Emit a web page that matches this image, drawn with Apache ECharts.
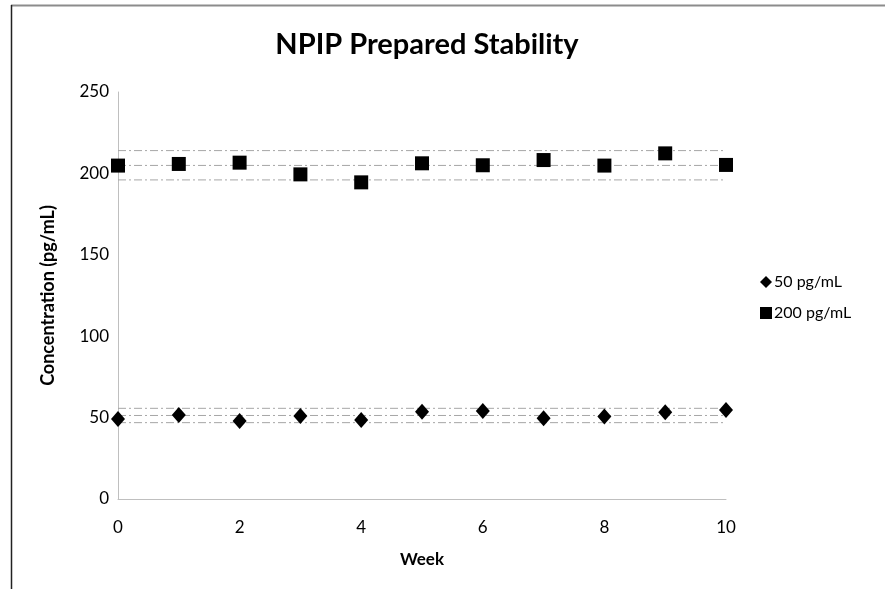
<!DOCTYPE html>
<html>
<head>
<meta charset="utf-8">
<script src="https://cdn.jsdelivr.net/npm/echarts@6/dist/echarts.min.js"></script>
<style>
  html, body { margin: 0; padding: 0; background: #fff; }
  #chart { width: 885px; height: 589px; }
</style>
</head>
<body>
<div id="chart"></div>
<script>
// weeks on the x axis
var weeks = [0, 1, 2, 3, 4, 5, 6, 7, 8, 9, 10];
// measured concentrations (pg/mL)
var low50 = [49.2, 51.6, 47.9, 51.0, 48.5, 53.6, 54.1, 49.6, 50.6, 53.3, 54.7];
var high200 = [204.8, 205.8, 206.6, 199.4, 194.5, 206.2, 205.0, 208.2, 204.8, 212.3, 205.2];
// reference lines (upper limit, mean, lower limit)
var limits50 = [55.7, 51.3, 46.9];
var limits200 = [214.0, 204.9, 196.0];
var seriesNames = ['50 pg/mL', '200 pg/mL'];
var yTicks = [0, 50, 100, 150, 200, 250];
var xTicks = [0, 2, 4, 6, 8, 10];

window.onload = function () {
    var font = 'Lato';
    var chart = echarts.init(document.getElementById('chart'));

    function pairs(vals) {
        return weeks.map(function (w, i) { return [w, vals[i]]; });
    }

    function refLine(v) {
        return {
            type: 'line',
            data: [[weeks[0], v], [weeks[weeks.length - 1], v]],
            symbol: 'none',
            silent: true,
            z: 1,
            lineStyle: { color: '#a6a6a6', width: 1, type: [8, 3, 2, 3] }
        };
    }

    var series = [];
    limits50.concat(limits200).forEach(function (v) { series.push(refLine(v)); });
    series.push({
        name: seriesNames[0],
        type: 'scatter',
        data: pairs(low50),
        symbol: 'diamond',
        symbolSize: [14, 16],
        itemStyle: { color: '#000', opacity: 1 },
        z: 5
    });
    series.push({
        name: seriesNames[1],
        type: 'scatter',
        data: pairs(high200),
        symbol: 'rect',
        symbolSize: 14,
        itemStyle: { color: '#000', opacity: 1 },
        z: 5
    });

    var option = {
        animation: false,
        title: {
            text: 'NPIP Prepared Stability',
            left: 422,
            top: 25,
            textAlign: 'center',
            textStyle: { fontFamily: font, fontSize: 29, fontWeight: 'bold', color: '#000' }
        },
        legend: {
            orient: 'vertical',
            left: 755,
            top: 269,
            itemGap: 15,
            itemWidth: 12,
            itemHeight: 12,
            data: [
                { name: seriesNames[0], icon: 'diamond' },
                { name: seriesNames[1], icon: 'rect' }
            ],
            itemStyle: { opacity: 1 },
            textStyle: { fontFamily: font, fontSize: 16, color: '#000', padding: [0, 0, 0, -3] }
        },
        grid: { left: 118, right: 159, top: 92, bottom: 90 },
        xAxis: {
            type: 'value',
            min: xTicks[0],
            max: xTicks[xTicks.length - 1],
            interval: 2,
            name: 'Week',
            nameLocation: 'middle',
            nameGap: 52,
            nameTextStyle: { fontFamily: font, fontSize: 17, fontWeight: 'bold', color: '#000' },
            axisLine: { lineStyle: { color: '#bfbfbf', width: 1 } },
            axisTick: { show: false },
            splitLine: { show: false },
            axisLabel: { fontFamily: font, fontSize: 17, color: '#000', margin: 20 }
        },
        yAxis: {
            type: 'value',
            min: yTicks[0],
            max: yTicks[yTicks.length - 1],
            interval: 50,
            name: 'Concentration (pg/mL)',
            nameLocation: 'middle',
            nameGap: 61,
            nameTextStyle: { fontFamily: font, fontSize: 18, fontWeight: 'bold', color: '#000' },
            axisLine: { show: true, lineStyle: { color: '#bfbfbf', width: 1 } },
            axisTick: { show: false },
            splitLine: { show: false },
            axisLabel: { fontFamily: font, fontSize: 17, color: '#000', margin: 9 }
        },
        graphic: [
            { type: 'line', shape: { x1: 11, y1: 5.5, x2: 885, y2: 5.5 }, style: { stroke: '#8c8c8c', lineWidth: 2 } },
            { type: 'line', shape: { x1: 11.5, y1: 5, x2: 11.5, y2: 589 }, style: { stroke: '#222', lineWidth: 1.5 } }
        ],
        series: series
    };

    chart.setOption(option);
};
</script>
</body>
</html>
